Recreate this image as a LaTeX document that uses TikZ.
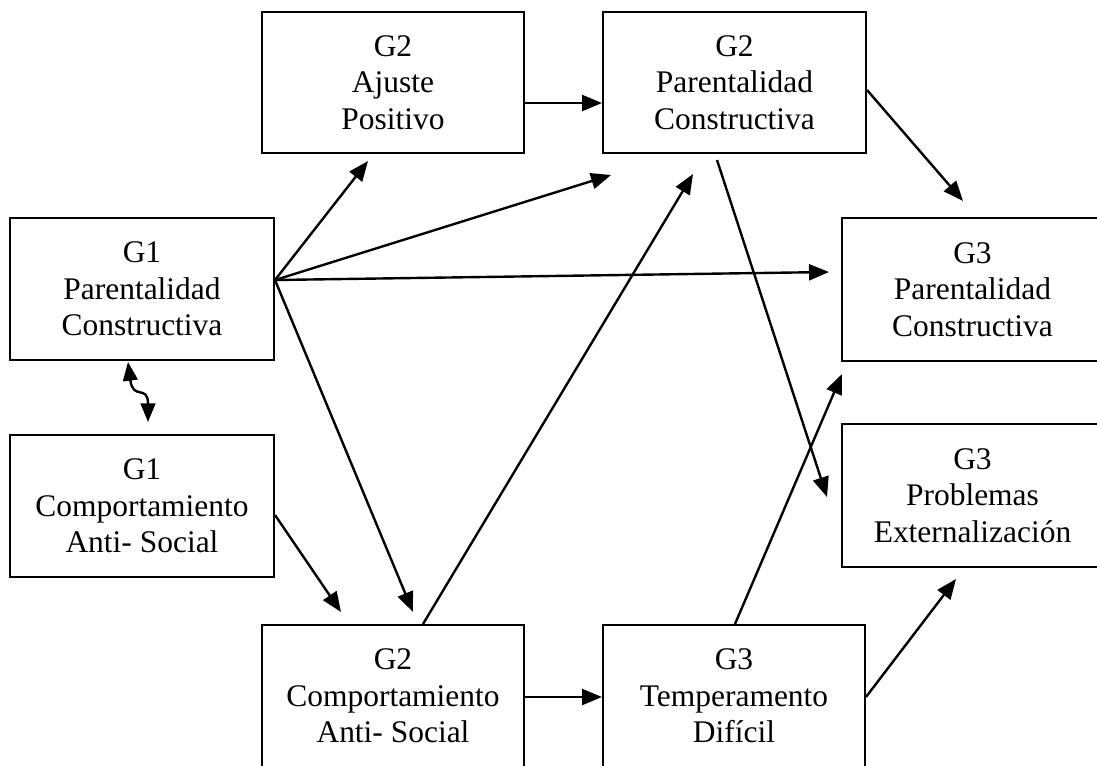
\documentclass[tikz,border=0pt]{standalone}
\usepackage{fontspec}
\setmainfont{Liberation Serif}
\usetikzlibrary{arrows.meta,calc}

\tikzset{
  box/.style={draw, line width=1.5pt, align=center, inner sep=0pt,
    font=\fontsize{23.6}{27.4}\selectfont},
  link/.style={line width=1.8pt, -{Triangle[length=15pt,width=12pt]}},
  twoway/.style={line width=1.8pt, {Triangle[length=14pt,width=11pt]}-{Triangle[length=14pt,width=11pt]}},
}

\begin{document}
\begin{tikzpicture}[x=0.75pt,y=-0.75pt]
\useasboundingbox (0,0) rectangle (1097,765);
\clip (0,0) rectangle (1097,765);

% variables
\node[box, minimum width=196.5pt,  minimum height=105.75pt] (g2ap)  at (393,82.5)   {G2\\Ajuste\\Positivo};
\node[box, minimum width=197.25pt, minimum height=105.75pt] (g2pc)  at (734.5,82.5) {G2\\Parentalidad\\Constructiva};
\node[box, minimum width=198pt,    minimum height=106.5pt]  (g1pc)  at (142,289)    {G1\\Parentalidad\\Constructiva};
\node[box, minimum width=198pt,    minimum height=106.5pt]  (g1cas) at (142,506)    {G1\\Comportamiento\\Anti- Social};
\node[box, minimum width=195.75pt, minimum height=107.25pt] (g3pc)  at (972.5,289.5) {G3\\Parentalidad\\Constructiva};
\node[box, minimum width=195.75pt, minimum height=107.25pt] (g3pe)  at (972.5,495.5) {G3\\Problemas\\Externalización};
\node[box, minimum width=196.5pt,  minimum height=106.5pt]  (g2cas) at (393,696)    {G2\\Comportamiento\\Anti- Social};
\node[box, minimum width=196.5pt,  minimum height=106.5pt]  (g3td)  at (734,696)    {G3\\Temperamento\\Difícil};

% paths out of G1 parenting
\draw[link] ($(g1pc.east)+(0,-9)$) -- ($(g2ap.south)+(-25,7)$);
\draw[link] ($(g1pc.east)+(0,-9)$) -- ($(g2pc.south west)+(9,21)$);
\draw[link] ($(g1pc.east)+(0,-9)$) -- ($(g3pc.west)+(-12,-17.5)$);
\draw[link] ($(g1pc.east)+(0,-9)$) -- ($(g2cas.north)+(20,-12)$);

% G1 antisocial behaviour
\draw[link] ($(g1cas.east)+(0,9)$) -- ($(g2cas.north)+(-52,-12)$);

% wave-shaped correlation between the G1 measures
\draw[twoway] ($(g1pc.south)+(-14,1)$) .. controls ($(g1pc.south)+(-9,40)$) and ($(g1cas.north)+(6,-50)$) .. ($(g1cas.north)+(6,-12)$);

% G2 paths
\draw[link] ($(g2ap.east)+(0,20.5)$) -- ($(g2pc.west)+(0,20.5)$);
\draw[link] ($(g2cas.north)+(30,0)$) -- ($(g2pc.south)+(-41.5,20)$);
\draw[link] ($(g2pc.south)+(-17.5,6)$) -- ($(g3pe.west)+(-14,1.5)$);
\draw[link] ($(g2pc.east)+(0,7.5)$) -- ($(g3pc.north)+(-9.5,-16)$);
\draw[link] ($(g2cas.east)+(0,1)$) -- ($(g3td.west)+(0,1)$);

% G3 temperament
\draw[link] ($(g3td.north)+(1,0)$) -- ($(g3pc.south west)+(1,12)$);
\draw[link] ($(g3td.east)+(0,1)$) -- ($(g3pe.south)+(-16.5,11)$);
\end{tikzpicture}
\end{document}
